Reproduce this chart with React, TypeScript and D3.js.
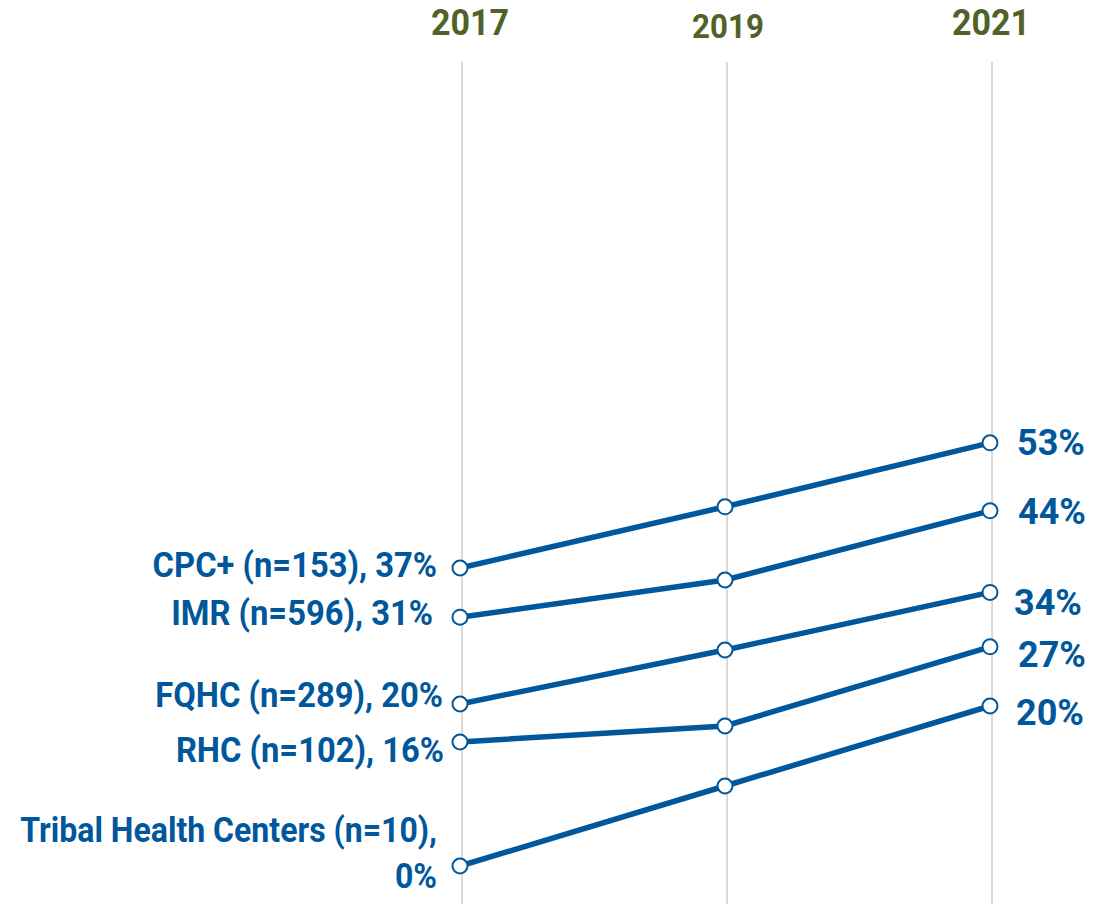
import React from "react";
import * as d3 from "d3";

const years = ["2017", "2019", "2021"];
const categories = [
  "CPC+ (n=153)",
  "IMR (n=596)",
  "FQHC (n=289)",
  "RHC (n=102)",
  "Tribal Health Centers (n=10)",
];
const values2017 = [37.25, 31.1, 20.25, 15.5, 0];
const values2019 = [44.9, 35.75, 27.0, 17.5, 10.0];
const values2021 = [52.9, 44.4, 34.2, 27.4, 20.0];
const startLabels = ["37%", "31%", "20%", "16%", "0%"];
const endLabels = ["53%", "44%", "34%", "27%", "20%"];

// layout tweaks (label nudges, px)
const leftDy = [9, 8, 3, 20, 22];
const leftDx = [-23, -27, -17, -16, -23];
const leftSx = [0.91, 0.91, 0.91, 0.91, 0.89];
const rightDy = [12, 13, 23, 20, 19];
const rightDx = [27, 28, 24, 28, 26];
const yearDx = [8, 1, -1];
const yearSize = [37, 34, 37];
const yearBase = [35, 38, 35];

const BLUE = "#00579B";
const GREEN = "#4F6228";
const FONT = "Roboto, 'Noto Sans', sans-serif";

function T(props: {
  x: number;
  y: number;
  sx: number;
  size: number;
  fill: string;
  anchor?: string;
  children: React.ReactNode;
}) {
  return (
    <text
      transform={`translate(${props.x},${props.y}) scale(${props.sx},1)`}
      textAnchor={props.anchor || "start"}
      fontSize={props.size}
      fill={props.fill}
    >
      {props.children}
    </text>
  );
}

export default function App() {
  const W = 1109;
  const H = 904;
  const x = d3.scalePoint<string>().domain(years).range([460, 990]);
  const y = d3.scaleLinear().domain([0, 100]).range([866, 66]);
  const series = categories.map((c, i) => ({
    name: c,
    vals: [values2017[i], values2019[i], values2021[i]],
  }));
  const line = d3
    .line<number>()
    .x((_, j) => x(years[j]) as number)
    .y((v) => y(v));

  const LS = 36; // label font size

  return (
    <svg
      width={W}
      height={H}
      style={{ position: "absolute", left: 0, top: 0, background: "#fff" }}
      fontFamily={FONT}
      fontWeight="bold"
    >
      {years.map((yr, j) => (
        <g key={yr}>
          <line
            x1={(x(yr) as number) + 2}
            x2={(x(yr) as number) + 2}
            y1={62}
            y2={H}
            stroke="#d9d9d9"
            strokeWidth={2}
          />
          <T
            x={(x(yr) as number) + 2 + yearDx[j]}
            y={yearBase[j]}
            sx={0.92}
            anchor="middle"
            size={yearSize[j]}
            fill={GREEN}
          >
            {yr}
          </T>
        </g>
      ))}
      {series.map((s) => (
        <path
          key={s.name}
          d={line(s.vals) || ""}
          fill="none"
          stroke={BLUE}
          strokeWidth={5.5}
        />
      ))}
      {series.map((s) =>
        s.vals.map((v, j) => (
          <circle
            key={s.name + j}
            cx={x(years[j]) as number}
            cy={y(v)}
            r={7.5}
            fill="#fff"
            stroke={BLUE}
            strokeWidth={2}
          />
        ))
      )}
      {series.map((s, i) => {
        const px = (x(years[0]) as number) + leftDx[i];
        const py = y(s.vals[0]) + leftDy[i];
        if (i === 4) {
          return (
            <g key={"l" + i}>
              <T x={px} y={py - 46} sx={leftSx[i]} anchor="end" size={LS} fill={BLUE}>
                {s.name + ","}
              </T>
              <T x={px} y={py} sx={leftSx[i]} anchor="end" size={LS} fill={BLUE}>
                {startLabels[i]}
              </T>
            </g>
          );
        }
        return (
          <T key={"l" + i} x={px} y={py} sx={leftSx[i]} anchor="end" size={LS} fill={BLUE}>
            {s.name + ", " + startLabels[i]}
          </T>
        );
      })}
      {series.map((s, i) => (
        <T
          key={"r" + i}
          x={(x(years[2]) as number) + rightDx[i]}
          y={y(s.vals[2]) + rightDy[i]}
          sx={1}
          size={LS}
          fill={BLUE}
        >
          {endLabels[i]}
        </T>
      ))}
    </svg>
  );
}
